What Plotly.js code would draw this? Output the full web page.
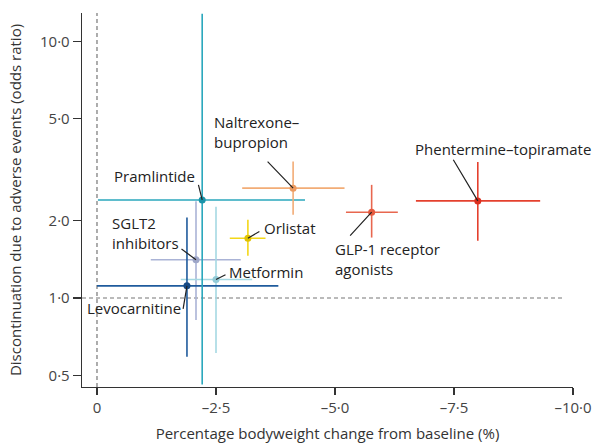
<!DOCTYPE html>
<html><head><meta charset="utf-8">
<script src="https://cdn.plot.ly/plotly-3.0.1.min.js"></script>
<style>html,body{margin:0;padding:0;background:#fff}</style>
</head><body><div id="chart" style="width:600px;height:447px"></div>
<script>
// ---- data ----
const drugs = ["SGLT2 inhibitors","Metformin","Levocarnitine","Pramlintide","Orlistat","Naltrexone–bupropion","GLP-1 receptor agonists","Phentermine–topiramate"];
const weightChange = [-2.08,-2.50,-1.89,-2.21,-3.17,-4.12,-5.77,-8.00];
const weightCILess = [-1.13,-1.76,0.00,-0.02,-2.79,-3.05,-5.23,-6.70];
const weightCIMore = [-3.02,-3.26,-3.81,-4.37,-3.54,-5.20,-6.32,-9.31];
const oddsRatio = [1.41,1.18,1.115,2.41,1.71,2.68,2.16,2.39];
const orLow = [0.82,0.61,0.59,0.46,1.46,2.11,1.72,1.67];
const orHigh = [2.38,2.27,2.06,12.8,2.02,3.40,2.76,3.39];
const labelText = ["SGLT2<br>inhibitors","Metformin","Levocarnitine","Pramlintide","Orlistat","Naltrexone–<br>bupropion","GLP-1 receptor<br>agonists","Phentermine–topiramate"];
const xTickVals = [0,-2.5,-5,-7.5,-10];
const xTickText = ["0","–2·5","–5·0","–7·5","–10·0"];
const yTickVals = [0.5,1,2,5,10];
const yTickText = ["0·5","1·0","2·0","5·0","10·0"];
const noEffectOR = 1;

// ---- styles ----
const lineColors = ["#aab3d6","#a5d9e3","#1f5b9c","#2aa7bd","#f3d718","#f2ac76","#e8674f","#e4402e"];
const markerColors = ["#9ea6c8","#93cbd7","#174a85","#1b93a9","#e0c200","#ec9a60","#e55a3f","#dc2f1f"];
const leaderAx = [-15,10,-4,-4,12,-26,-22,-25];
const leaderAy = [-11,-5,24,-16,-7,-27,24,-42];
const textXShift = [-86,11,-4,-5,14,-81,-39,-65];
const textYShift = [27,8,-22,24,10,56,-47,52];
const textXAnchor = ["left","left","right","right","left","left","left","left"];
const xRange = [0.315,-10.0];
const yRange = [Math.log10(0.45), Math.log10(12.9)];

const traces = drugs.map((d,i)=>({
  type:"scatter", mode:"markers", name:d,
  x:[weightChange[i]], y:[oddsRatio[i]],
  marker:{size:7, color:markerColors[i]},
  error_x:{type:"data", symmetric:false,
    array:[Math.max(weightCILess[i],weightCIMore[i])-weightChange[i]],
    arrayminus:[weightChange[i]-Math.min(weightCILess[i],weightCIMore[i])],
    color:lineColors[i], thickness:1.6, width:0},
  error_y:{type:"data", symmetric:false,
    array:[orHigh[i]-oddsRatio[i]], arrayminus:[oddsRatio[i]-orLow[i]],
    color:lineColors[i], thickness:1.6, width:0},
  hoverinfo:"name", showlegend:false
}));

const annotations = [];
drugs.forEach((d,i)=>{
  annotations.push({x:weightChange[i], y:Math.log10(oddsRatio[i]), xref:"x", yref:"y",
    text:" ", font:{size:1}, showarrow:true, arrowhead:0, arrowwidth:1.2, arrowcolor:"#222",
    ax:leaderAx[i], ay:leaderAy[i], standoff:0, startstandoff:0, borderpad:0});
  annotations.push({x:weightChange[i], y:Math.log10(oddsRatio[i]), xref:"x", yref:"y",
    text:labelText[i], showarrow:false, xanchor:textXAnchor[i], yanchor:"middle", align:"left",
    xshift:textXShift[i], yshift:textYShift[i],
    font:{family:"Open Sans, sans-serif", size:15, color:"#222"}});
});

const refY = (Math.log10(noEffectOR)-yRange[0])/(yRange[1]-yRange[0]);

const layout = {
  width:600, height:447,
  margin:{l:82, r:27, t:13, b:60},
  paper_bgcolor:"#fff", plot_bgcolor:"#fff",
  font:{family:"Open Sans, sans-serif", color:"#333"},
  xaxis:{range:xRange, showgrid:false, zeroline:false, showline:true,
    linecolor:"#333", linewidth:1.3, ticks:"outside", ticklen:7, tickwidth:1.3, tickcolor:"#333",
    tickvals:xTickVals, ticktext:xTickText, tickfont:{size:15, color:"#444"},
    title:{text:"Percentage bodyweight change from baseline (%)", font:{size:15, color:"#333"}, standoff:12}},
  yaxis:{type:"log", range:yRange, showgrid:false, zeroline:false, showline:true,
    linecolor:"#333", linewidth:1.3, ticks:"outside", ticklen:8, tickwidth:1.3, tickcolor:"#333",
    tickvals:yTickVals, ticktext:yTickText, tickfont:{size:15, color:"#444"},
    title:{text:"Discontinuation due to adverse events (odds ratio)", font:{size:15, color:"#333"}, standoff:14}},
  shapes:[
    {type:"line", xref:"x", yref:"paper", x0:0, x1:0, y0:0, y1:1, layer:"below",
     line:{color:"#777", width:1.2, dash:"4px,3px"}},
    {type:"line", xref:"x", yref:"paper", x0:xRange[0], x1:-9.8, y0:refY, y1:refY, layer:"below",
     line:{color:"#777", width:1.2, dash:"4px,3px"}}
  ],
  annotations:annotations
};

Plotly.newPlot("chart", traces, layout, {displayModeBar:false, staticPlot:true});
</script>
</body></html>
